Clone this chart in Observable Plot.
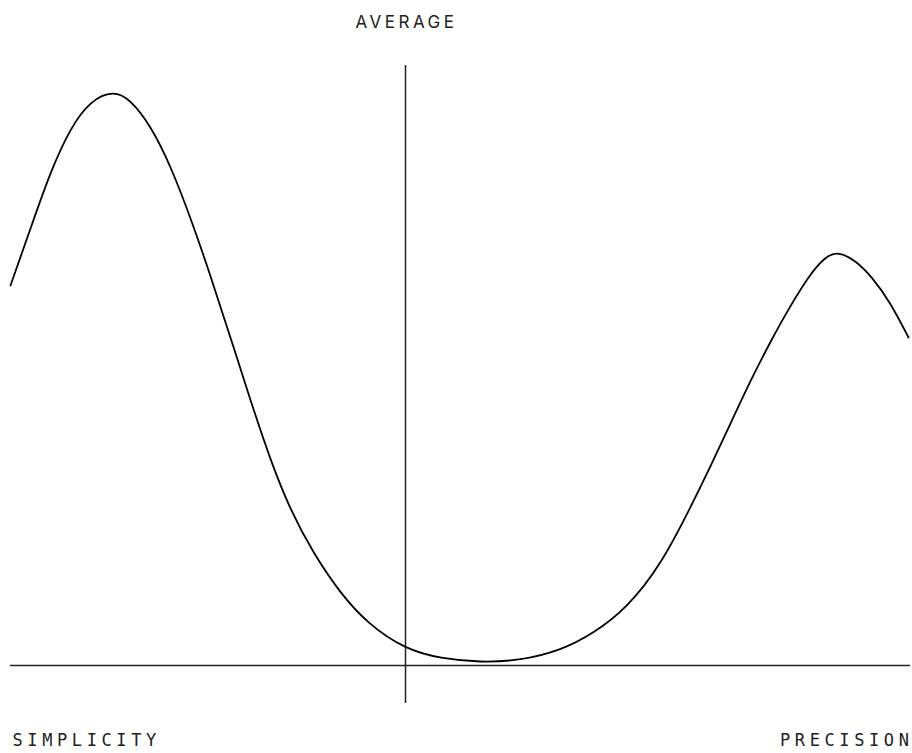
<!DOCTYPE html>
<html>
<head>
<meta charset="utf-8">
<script src="https://cdn.jsdelivr.net/npm/d3@7"></script>
<script src="https://cdn.jsdelivr.net/npm/@observablehq/plot@0.6"></script>
<style>
  html, body { margin: 0; padding: 0; background: #fff; }
</style>
</head>
<body>
<div id="chart"></div>
<script>
// Position along the simplicity → precision spectrum
const xs = [0, 20, 40, 60, 80, 103, 120, 140, 160, 180, 200, 220, 240, 260, 280, 303, 330, 357, 395, 430, 470, 510, 550, 583, 617, 650, 680, 700, 720, 740, 760, 780, 800, 815, 828, 845, 862, 880, 898];
// Curve height
const ys = [380, 437, 494, 538, 565, 575, 566, 540, 500, 448, 390, 328, 265, 205, 155, 112, 72, 42, 16, 7, 3, 5, 15, 32, 58, 100, 158, 199, 242, 285, 324, 360, 392, 409, 414, 405, 388, 363, 328];
const averageX = 395;
const labels = { top: "AVERAGE", left: "SIMPLICITY", right: "PRECISION" };

const curve = xs.map((x, i) => ({ x, y: ys[i] }));

const chart = Plot.plot({
  width: 912,
  height: 753,
  marginLeft: 10,
  marginRight: 2,
  marginTop: 65,
  marginBottom: 50,
  x: { domain: [0, 900], axis: null },
  y: { domain: [-38, 600], axis: null },
  marks: [
    Plot.ruleY([0], { stroke: "#222", strokeWidth: 1.5 }),
    Plot.ruleX([averageX], { stroke: "#222", strokeWidth: 1.5 }),
    Plot.line(curve, { x: "x", y: "y", curve: "basis", stroke: "#000", strokeWidth: 1.8 }),
    Plot.text([labels.top], { x: [averageX], frameAnchor: "top", lineAnchor: "bottom", dy: -38, dx: 1, text: d => d, fontFamily: "Inter, 'Noto Sans', sans-serif", fontSize: 17, fill: "#222", className: "lbl-top" }),
    Plot.text([labels.left], { frameAnchor: "bottom-left", textAnchor: "start", lineAnchor: "bottom", dy: 42, dx: 2, text: d => d, fontFamily: "'DejaVu Sans Mono', 'Liberation Mono', monospace", fontSize: 17, fill: "#222", className: "lbl-mono" }),
    Plot.text([labels.right], { frameAnchor: "bottom-right", textAnchor: "end", lineAnchor: "bottom", dy: 42, dx: 3, text: d => d, fontFamily: "'DejaVu Sans Mono', 'Liberation Mono', monospace", fontSize: 17, fill: "#222", className: "lbl-mono" })
  ]
});

d3.select(chart).selectAll(".lbl-top text").attr("letter-spacing", "3.5px");
d3.select(chart).selectAll(".lbl-mono text").attr("letter-spacing", "4.6px");

document.getElementById("chart").appendChild(chart);
</script>
</body>
</html>
